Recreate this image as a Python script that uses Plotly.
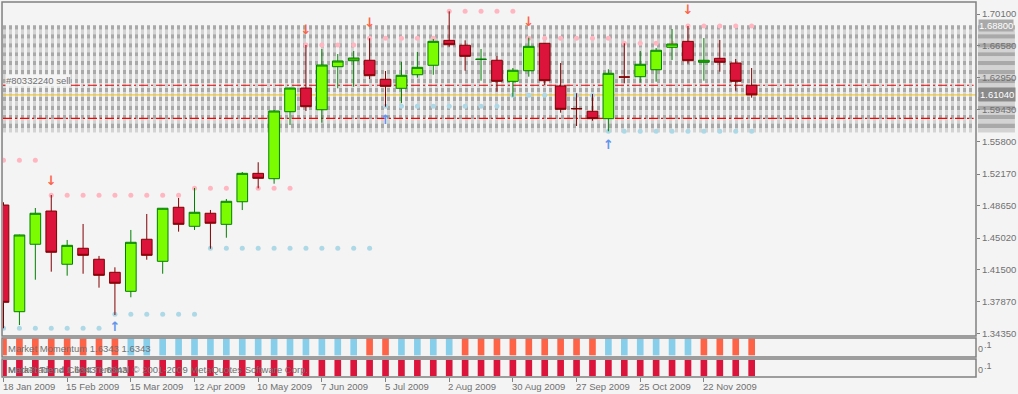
import plotly.graph_objects as go

# ---------------- data ----------------
dates = [
    "2009-01-18", "2009-01-25", "2009-02-01", "2009-02-08", "2009-02-15", "2009-02-22",
    "2009-03-01", "2009-03-08", "2009-03-15", "2009-03-22", "2009-03-29", "2009-04-05",
    "2009-04-12", "2009-04-19", "2009-04-26", "2009-05-03", "2009-05-10", "2009-05-17",
    "2009-05-24", "2009-05-31", "2009-06-07", "2009-06-14", "2009-06-21", "2009-06-28",
    "2009-07-05", "2009-07-12", "2009-07-19", "2009-07-26", "2009-08-02", "2009-08-09",
    "2009-08-16", "2009-08-23", "2009-08-30", "2009-09-06", "2009-09-13", "2009-09-20",
    "2009-09-27", "2009-10-04", "2009-10-11", "2009-10-18", "2009-10-25", "2009-11-01",
    "2009-11-08", "2009-11-15", "2009-11-22", "2009-11-29", "2009-12-06", "2009-12-13",
]
opens = [1.4871, 1.3677, 1.4432, 1.4804, 1.4208, 1.4387, 1.4264, 1.4118, 1.3905, 1.4488,
         1.4241, 1.4846, 1.4633, 1.4779, 1.4655, 1.4908, 1.5226, 1.5166, 1.5916, 1.6181,
         1.5938, 1.6420, 1.6487, 1.6492, 1.6279, 1.6178, 1.6330, 1.6436, 1.6715, 1.6660,
         1.6501, 1.6492, 1.6256, 1.6375, 1.6682, 1.6204, 1.5952, 1.5921, 1.5838, 1.6306,
         1.6308, 1.6386, 1.6637, 1.6704, 1.6469, 1.6514, 1.6461, 1.6212]
highs = [1.4902, 1.4540, 1.4838, 1.4983, 1.4480, 1.4659, 1.4301, 1.4174, 1.4592, 1.4771,
         1.4838, 1.4950, 1.5062, 1.4816, 1.4939, 1.5241, 1.5350, 1.5935, 1.6185, 1.6663,
         1.6618, 1.6562, 1.6596, 1.6738, 1.6372, 1.6473, 1.6585, 1.6730, 1.7040, 1.6715,
         1.6618, 1.6540, 1.6405, 1.6745, 1.6685, 1.6461, 1.6122, 1.6114, 1.6391, 1.6682,
         1.6596, 1.6629, 1.6842, 1.6876, 1.6741, 1.6719, 1.6506, 1.6405]
lows = [1.3491, 1.3528, 1.4035, 1.4125, 1.4080, 1.4102, 1.3946, 1.3640, 1.3838, 1.4259,
        1.4102, 1.4573, 1.4592, 1.4382, 1.4505, 1.4815, 1.5058, 1.5110, 1.5767, 1.5924,
        1.5793, 1.6178, 1.6196, 1.6282, 1.5972, 1.6014, 1.6297, 1.6330, 1.6644, 1.6375,
        1.6263, 1.6140, 1.6084, 1.6308, 1.6212, 1.5905, 1.5756, 1.5815, 1.5697, 1.6234,
        1.6241, 1.6252, 1.6495, 1.6454, 1.6263, 1.6364, 1.6151, 1.6073]
closes = [1.3782, 1.4536, 1.4779, 1.4342, 1.4420, 1.4308, 1.4084, 1.3995, 1.4454, 1.4308,
          1.4835, 1.4655, 1.4790, 1.4667, 1.4913, 1.5226, 1.5170, 1.5924, 1.6181, 1.5972,
          1.6439, 1.6484, 1.6517, 1.6319, 1.6200, 1.6324, 1.6413, 1.6704, 1.6666, 1.6536,
          1.6504, 1.6256, 1.6380, 1.6648, 1.6263, 1.5943, 1.5949, 1.5838, 1.6346, 1.6303,
          1.6447, 1.6604, 1.6674, 1.6487, 1.6492, 1.6469, 1.6256, 1.6104]

upper_dots = [1.5372, 1.5372, 1.5372,
              1.4980, 1.4980, 1.4980, 1.4980, 1.4980, 1.4980, 1.4980, 1.4980, 1.4980,
              1.5058, 1.5058, 1.5058, 1.5058, 1.5058, 1.5058, 1.5058,
              1.6663, 1.6663, 1.6663, 1.6663,
              1.6738, 1.6738, 1.6738, 1.6738, 1.6738,
              1.7040, 1.7040, 1.7040, 1.7040, 1.7040,
              1.6738, 1.6738, 1.6738, 1.6738, 1.6738, 1.6738,
              1.6682, 1.6682, 1.6682, 1.6682,
              1.6876, 1.6876, 1.6876, 1.6876, 1.6876]
lower_dots = [1.3491, 1.3491, 1.3491, 1.3491, 1.3491, 1.3491, 1.3491,
              1.3648, 1.3648, 1.3648, 1.3648, 1.3648, 1.3648,
              1.4387, 1.4387, 1.4387, 1.4387, 1.4387, 1.4387, 1.4387, 1.4387, 1.4387, 1.4387, 1.4387,
              1.5977, 1.5977, 1.5977, 1.5977, 1.5977, 1.5977, 1.5977, 1.5977,
              1.6100, 1.6100, 1.6100, 1.6100, 1.6100, 1.6100,
              1.5697, 1.5697, 1.5697, 1.5697, 1.5697, 1.5697, 1.5697, 1.5697, 1.5697, 1.5697]

sell_arrow_dates = ["2009-02-08", "2009-05-31", "2009-06-28", "2009-09-06", "2009-11-15"]
sell_arrow_prices = [1.5135, 1.6822, 1.6906, 1.6915, 1.7049]
buy_arrow_dates = ["2009-03-08", "2009-07-05", "2009-10-11"]
buy_arrow_prices = [1.3500, 1.5818, 1.5534]

# Market Momentum histogram: 1 = up (sky blue), -1 = down (tomato)
momentum = [-1, -1, -1, -1, -1, -1, -1, -1,
            1, 1, 1, 1, 1, 1, 1, 1, 1, 1, 1, 1, 1, 1, 1,
            -1, -1,
            1, 1, 1, 1,
            -1, -1, -1, -1, -1, -1, -1, -1, -1,
            1, 1, 1, 1, 1, 1,
            -1, -1, -1, -1]
trend = [-1] * 48

# horizontal grid of levels (gray band)
band_levels = [1.6880, 1.6830, 1.6780, 1.6730, 1.6680, 1.6630, 1.6580, 1.6530,
               1.6480, 1.6430, 1.6380, 1.6330, 1.6280, 1.6230, 1.6180, 1.6130,
               1.6080, 1.6030, 1.5980, 1.5930, 1.5880, 1.5830, 1.5780, 1.5730]
order_price = 1.6212
order_stop_price = 1.5842
order_label_price = 1.6271
bid_price = 1.6104
band_label_price = 1.6880

price_ticks = [1.70100, 1.66580, 1.62950, 1.59430, 1.55800, 1.52170,
               1.48650, 1.45020, 1.41500, 1.37870, 1.34350]
tick_dates = ["2009-01-18", "2009-02-15", "2009-03-15", "2009-04-12", "2009-05-10", "2009-06-07",
              "2009-07-05", "2009-08-02", "2009-08-30", "2009-09-27", "2009-10-25", "2009-11-22"]
tick_labels = ["18 Jan 2009", "15 Feb 2009", "15 Mar 2009", "12 Apr 2009", "10 May 2009", "7 Jun 2009",
               "5 Jul 2009", "2 Aug 2009", "30 Aug 2009", "27 Sep 2009", "25 Oct 2009", "22 Nov 2009"]

# ---------------- style ----------------
BG = "#f4f4f4"
GRAY = "#808080"
TXT = "#707070"
FONT = "Liberation Sans"
DARK_ROW = "#a9a9a9"
LIGHT_ROW = "#d3d3d3"

fig = go.Figure()

# dots (under candles)
fig.add_trace(go.Scatter(x=dates, y=upper_dots, mode="markers", zorder=0,
                         marker=dict(color="#ffb6c1", size=5), yaxis="y", hoverinfo="skip"))
fig.add_trace(go.Scatter(x=dates, y=lower_dots, mode="markers", zorder=0,
                         marker=dict(color="#add8e6", size=5), yaxis="y", hoverinfo="skip"))

fig.add_trace(go.Candlestick(
    x=dates, open=opens, high=highs, low=lows, close=closes, zorder=1,
    increasing=dict(fillcolor="#7cfc00", line=dict(color="#008000", width=1)),
    decreasing=dict(fillcolor="#dc143c", line=dict(color="#800000", width=1)),
    whiskerwidth=0, yaxis="y", hoverinfo="skip"))

fig.add_trace(go.Scatter(x=sell_arrow_dates, y=sell_arrow_prices, mode="text", zorder=2,
                         text=["↓"] * len(sell_arrow_dates),
                         textfont=dict(color="#ff6347", size=13, family="DejaVu Sans", weight="bold"),
                         textposition="middle center", yaxis="y", hoverinfo="skip"))
fig.add_trace(go.Scatter(x=buy_arrow_dates, y=buy_arrow_prices, mode="text", zorder=2,
                         text=["↑"] * len(buy_arrow_dates),
                         textfont=dict(color="#6495ed", size=13, family="DejaVu Sans", weight="bold"),
                         textposition="middle center", yaxis="y", hoverinfo="skip"))

bar_w = 2.93 * 86400000
fig.add_trace(go.Bar(x=dates, y=[1] * len(momentum), width=bar_w,
                     marker=dict(color=["#87ceeb" if m > 0 else "#ff6347" for m in momentum], line=dict(width=0)),
                     yaxis="y2", hoverinfo="skip"))
fig.add_trace(go.Bar(x=dates, y=[1] * len(trend), width=bar_w,
                     marker=dict(color=["#87ceeb" if t > 0 else "#dc143c" for t in trend], line=dict(width=0)),
                     yaxis="y3", hoverinfo="skip"))

shapes = []
ROW_SHIFT = 0.0022
for i, lv in enumerate(band_levels):
    col = DARK_ROW if i % 2 == 0 else LIGHT_ROW
    shapes.append(dict(type="line", xref="paper", yref="y", x0=0, x1=0.9975,
                       y0=lv - ROW_SHIFT, y1=lv - ROW_SHIFT,
                       line=dict(color=col, width=4.4, dash="3px,3px"), layer="below"))
    # price-scale label stripes
    shapes.append(dict(type="rect", xref="paper", yref="y", x0=1.002, x1=1.04,
                       y0=lv - ROW_SHIFT - 0.0025, y1=lv - ROW_SHIFT + 0.0025,
                       fillcolor=col, line=dict(width=0), layer="below"))
shapes.append(dict(type="line", xref="paper", yref="y", x0=0, x1=0.9975, y0=order_price, y1=order_price,
                   line=dict(color="#dd0000", width=1.2, dash="9px,3px,2px,3px"), layer="below"))
shapes.append(dict(type="line", xref="paper", yref="y", x0=0, x1=0.9975, y0=order_stop_price, y1=order_stop_price,
                   line=dict(color="#ff0000", width=1.2, dash="9px,3px,2px,3px"), layer="below"))
shapes.append(dict(type="line", xref="paper", yref="y", x0=0, x1=1, y0=bid_price, y1=bid_price,
                   line=dict(color="#f0c010", width=1), layer="below"))

# pane borders
main_bottom = (377 - 336) / 375
p1 = ((377 - 357) / 375, (377 - 338) / 375)
p2 = (0.0, (377 - 359) / 375)
for (y0, y1) in [(main_bottom, 1.0), p1, p2]:
    shapes.append(dict(type="rect", xref="paper", yref="paper", x0=-0.001, x1=1.0, y0=y0, y1=y1,
                       line=dict(color=GRAY, width=1.5), fillcolor="rgba(0,0,0,0)", layer="above"))

annotations = []
for d, t in zip(tick_dates, tick_labels):
    annotations.append(dict(x=d, xref="x", y=-0.024, yref="paper", text=t, showarrow=False,
                            xanchor="left", yanchor="middle", xshift=-3,
                            font=dict(family=FONT, size=9.5, color=TXT)))
annotations.append(dict(x=0.002, xref="paper", y=order_label_price, yref="y", text="#80332240 sell",
                        showarrow=False, xanchor="left", yanchor="middle", bgcolor=BG, borderpad=0,
                        font=dict(family=FONT, size=9.5, color=TXT)))
annotations.append(dict(x=1.002, xref="paper", y=band_label_price, yref="y", text=f"{band_label_price:.5f}",
                        showarrow=False, xanchor="left", yanchor="middle", bgcolor=DARK_ROW, borderpad=0,
                        font=dict(family=FONT, size=9.5, color="white")))
annotations.append(dict(x=1.002, xref="paper", y=bid_price, yref="y", text=f"{bid_price:.5f}",
                        showarrow=False, xanchor="left", yanchor="middle", bgcolor="#8a8a8a", borderpad=1,
                        font=dict(family=FONT, size=9.5, color="white")))
annotations.append(dict(x=0.003, xref="paper", y=(377 - 348) / 375, yref="paper",
                        text="Market Momentum 1.6343 1.6343", showarrow=False, xanchor="left", yanchor="middle",
                        font=dict(family=FONT, size=9.5, color=TXT)))
annotations.append(dict(x=0.003, xref="paper", y=(377 - 369) / 375, yref="paper",
                        text="Market Trend 1.6343 1.6343", showarrow=False, xanchor="left", yanchor="middle",
                        font=dict(family=FONT, size=9.5, color=TXT)))
annotations.append(dict(x=0.003, xref="paper", y=(377 - 369) / 375, yref="paper",
                        text="MetaTrader 4 Client Terminal © 2001-2009 MetaQuotes Software Corp.",
                        showarrow=False, xanchor="left", yanchor="middle",
                        font=dict(family=FONT, size=9.5, color=TXT)))
for yc in [(377 - 349) / 375, (377 - 370) / 375]:
    annotations.append(dict(x=1.0046, xref="paper", y=yc, yref="paper", text="0", showarrow=False,
                            xanchor="center", yanchor="middle", font=dict(family=FONT, size=9, color=TXT)))
    annotations.append(dict(x=1.0062, xref="paper", y=yc + 4 / 375, yref="paper", text=".1", showarrow=False,
                            xanchor="left", yanchor="middle", font=dict(family=FONT, size=9, color=TXT)))

fig.update_layout(
    width=1018, height=394,
    margin=dict(l=3, r=37, t=2, b=17),
    paper_bgcolor=BG, plot_bgcolor=BG,
    showlegend=False,
    boxgap=0.33, boxgroupgap=0.0,
    shapes=shapes, annotations=annotations,
    xaxis=dict(type="date", range=["2009-01-17 18:45", "2010-03-21 15:50"],
               tickvals=tick_dates, ticks="outside", ticklen=4, tickcolor=GRAY, tickwidth=1,
               showticklabels=False, showgrid=False, zeroline=False, showline=False,
               anchor="y3", rangeslider=dict(visible=False)),
    yaxis=dict(domain=[main_bottom, 1.0], range=[1.34048, 1.71443], side="right", anchor="x",
               tickvals=price_ticks, ticktext=[f"{v:.5f}" for v in price_ticks],
               ticks="outside", ticklen=3, tickcolor=GRAY, showgrid=False, zeroline=False, showline=False,
               tickfont=dict(family=FONT, size=9.5, color=TXT)),
    yaxis2=dict(domain=list(p1), range=[-0.1, 1.04], visible=False, anchor="x"),
    yaxis3=dict(domain=list(p2), range=[-0.06, 1.06], visible=False, anchor="x"),
)

fig.write_html("out.html", config={"displayModeBar": False},
               post_script="document.body.style.margin='0';document.body.style.padding='0';"
                           "document.body.style.background='#f4f4f4';")
